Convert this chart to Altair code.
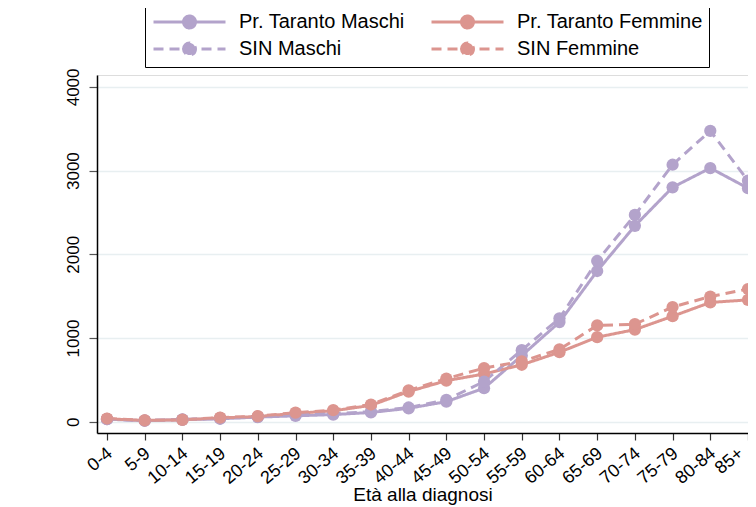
import altair as alt
import pandas as pd

ages = ["0-4", "5-9", "10-14", "15-19", "20-24", "25-29", "30-34", "35-39", "40-44",
        "45-49", "50-54", "55-59", "60-64", "65-69", "70-74", "75-79", "80-84", "85+"]

pt_maschi = [30, 12, 25, 35, 55, 70, 85, 110, 160, 240, 400, 790, 1190, 1800, 2340, 2800, 3030, 2790]
sin_maschi = [30, 12, 28, 38, 58, 80, 95, 120, 170, 260, 480, 855, 1235, 1920, 2470, 3070, 3475, 2880]
pt_femmine = [35, 15, 22, 45, 62, 100, 130, 195, 360, 490, 570, 680, 830, 1010, 1100, 1260, 1425, 1455]
sin_femmine = [38, 16, 24, 48, 66, 108, 138, 205, 375, 515, 640, 720, 865, 1150, 1165, 1370, 1495, 1585]

series_names = ["Pr. Taranto Maschi", "Pr. Taranto Femmine", "SIN Maschi", "SIN Femmine"]
series_values = [pt_maschi, pt_femmine, sin_maschi, sin_femmine]
series_colors = ["#b3a3cb", "#dc958f", "#b3a3cb", "#dc958f"]
series_dashes = [[1, 0], [1, 0], [10, 6], [10, 6]]

rows = []
for name, vals in zip(series_names, series_values):
    for a, v in zip(ages, vals):
        rows.append({"age": a, "series": name, "value": v})
df = pd.DataFrame(rows)

FONT = "Liberation Sans"

sym_path = "M-1.25,0H10.75M3.75,0A1,1,0,1,1,5.75,0A1,1,0,1,1,3.75,0Z"

legend = alt.Legend(
    orient="none", legendX=48, legendY=-69, columns=2, direction="horizontal", title=None,
    symbolType=sym_path, symbolSize=144, symbolStrokeWidth=3,
    labelFont=FONT, labelFontSize=20, labelColor="black", labelOffset=68,
    strokeColor="black", fillColor="white", padding=6,
    columnPadding=20, rowPadding=3, labelLimit=400, symbolOpacity=1,
)

x_enc = alt.X("age:N", sort=ages,
              scale=alt.Scale(type="point", padding=0.1326, align=1),
              axis=alt.Axis(title="Età alla diagnosi", labelAngle=320, labelAlign="right",
                            labelBaseline="top", labelFont=FONT, labelFontSize=18,
                            labelColor="black", labelPadding=4,
                            labelOffset={"condition": {"test": "datum.label == '85+'", "value": -13},
                                         "value": -3},
                            tickSize=7, tickColor="#333",
                            tickWidth=1.2, domainColor="black", domainWidth=1.5,
                            titleFont=FONT, titleFontSize=19, titleFontWeight="normal",
                            titleColor="black", titleY=61, titleBaseline="middle",
                            grid=False, labelOverlap=False))
y_enc = alt.Y("value:Q",
              scale=alt.Scale(domain=[-135, 4142], nice=False, zero=False),
              axis=alt.Axis(title=None, values=[0, 1000, 2000, 3000, 4000], format="d",
                            labelAngle=270, labelAlign="center", labelBaseline="bottom",
                            labelFont=FONT, labelFontSize=17, labelColor="black",
                            labelPadding=7, tickSize=8, tickColor="#555", tickWidth=1.2,
                            domainColor="black", domainWidth=1.5,
                            grid=True, gridColor="#e8eff1", gridWidth=1.5))

color_enc = alt.Color("series:N", scale=alt.Scale(domain=series_names, range=series_colors),
                      legend=legend, sort=series_names)
dash_enc = alt.StrokeDash("series:N", scale=alt.Scale(domain=series_names, range=series_dashes),
                          legend=legend, sort=series_names)

lines = alt.Chart(df).mark_line(strokeWidth=3).encode(
    x=x_enc, y=y_enc, color=color_enc, strokeDash=dash_enc)
points = alt.Chart(df).mark_point(filled=True, size=150, opacity=1).encode(
    x=x_enc, y=y_enc, color=color_enc)

chart = alt.layer(lines, points).properties(
    width=651, height=358,
    autosize=alt.AutoSizeParams(type="none"),
    padding={"left": 89, "top": 67, "right": 0, "bottom": 74},
).configure_view(stroke=None).configure(background="white")

chart.save("out.html", embed_options={"renderer": "svg", "actions": False})
